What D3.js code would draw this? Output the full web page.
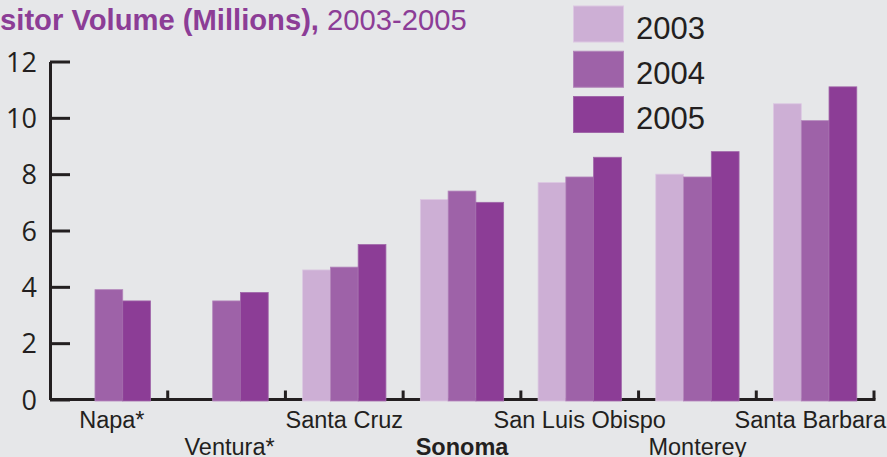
<!DOCTYPE html>
<html>
<head>
<meta charset="utf-8">
<script src="https://cdn.jsdelivr.net/npm/d3@7/dist/d3.min.js"></script>
<style>
  html, body { margin: 0; padding: 0; background: #e6e7e9; overflow: hidden; }
  svg { display: block; }
</style>
</head>
<body>
<svg id="chart" width="887" height="457"></svg>
<script>
// ---- Data ----
const categories = ["Napa*", "Ventura*", "Santa Cruz", "Sonoma", "San Luis Obispo", "Monterey", "Santa Barbara"];
const years = ["2003", "2004", "2005"];
const values2003 = [null, null, 4.6, 7.1, 7.7, 8.0, 10.5];
const values2004 = [3.9, 3.5, 4.7, 7.4, 7.9, 7.9, 9.9];
const values2005 = [3.5, 3.8, 5.5, 7.0, 8.6, 8.8, 11.1];
const yTicks = [0, 2, 4, 6, 8, 10, 12];
const titleBold = "Visitor Volume (Millions),";
const titleRest = " 2003-2005";

const seriesValues = [values2003, values2004, values2005];
const colors = ["#cdafd5", "#9e62a8", "#8c3d96"];
const edgeColors = ["#dcc8e2", "#b386bb", "#a066a9"];

const svg = d3.select("#chart");
const W = 887, H = 457;
svg.append("rect").attr("width", W).attr("height", H).attr("fill", "#e6e7e9");

const x0 = 50, x1end = 874, yTop = 61.5, yBase = 399.5;

const x = d3.scaleBand().domain(categories).range([x0, x1end]).paddingInner(0).paddingOuter(0);
const xs = d3.scaleBand().domain(years).range([0, x.bandwidth()]).paddingInner(0).paddingOuter(0.62);
const y = d3.scaleLinear().domain([0, 12]).range([yBase, yTop]);

// Title
const title = svg.append("text")
  .attr("x", -27).attr("y", 30)
  .attr("font-family", "Liberation Sans, Arial, sans-serif")
  .attr("font-size", 29.2)
  .attr("fill", "#8c3d96");
title.append("tspan").attr("font-weight", "bold").text(titleBold);
title.append("tspan").text(titleRest);

// X axis line + boundary ticks
const axisColor = "#231f20";
svg.append("line")
  .attr("x1", x0).attr("x2", x1end + 1.5)
  .attr("y1", yBase).attr("y2", yBase)
  .attr("stroke", axisColor).attr("stroke-width", 3);
const boundaries = categories.slice(1).map(c => x(c)).concat([x1end]);
svg.selectAll(".btick").data(boundaries).enter().append("line")
  .attr("x1", d => d).attr("x2", d => d)
  .attr("y1", yBase).attr("y2", yBase - 9)
  .attr("stroke", axisColor).attr("stroke-width", 3);

// Y axis
const yAxis = d3.axisLeft(y).tickValues(yTicks).tickSizeInner(-20).tickSizeOuter(0).tickPadding(13);
const yg = svg.append("g").attr("transform", `translate(${x0},0)`).call(yAxis);
yg.select(".domain").attr("stroke", axisColor).attr("stroke-width", 3);
yg.selectAll(".tick line").attr("stroke", axisColor).attr("stroke-width", 3);
yg.selectAll(".tick text")
  .attr("font-family", "Open Sans, Liberation Sans, sans-serif")
  .attr("font-size", 27)
  .attr("fill", "#231f20")
  .attr("dy", "0.36em");

// Bars
const groups = svg.selectAll(".cat").data(categories).enter().append("g")
  .attr("transform", d => `translate(${x(d)},0)`);
groups.each(function(cat, ci) {
  const g = d3.select(this);
  years.forEach((yr, si) => {
    const v = seriesValues[si][ci];
    if (v == null) return;
    g.append("rect")
      .attr("x", xs(yr))
      .attr("width", xs.bandwidth())
      .attr("y", y(v))
      .attr("height", yBase + 1.5 - y(v))
      .attr("fill", colors[si])
      .attr("stroke", edgeColors[si])
      .attr("stroke-width", 0.8);
  });
});

// X labels (alternating rows)
svg.selectAll(".xlabel").data(categories).enter().append("text")
  .attr("x", d => x(d) + x.bandwidth() / 2 + (d.endsWith("*") ? 3 : 0))
  .attr("y", (d, i) => i % 2 === 0 ? 428 : 455)
  .attr("text-anchor", "middle")
  .attr("font-family", "Liberation Sans, Arial, sans-serif")
  .attr("font-size", 23.5)
  .attr("font-weight", d => d === "Sonoma" ? "bold" : "normal")
  .attr("fill", "#231f20")
  .text(d => d)
  .each(function() {
    const bb = this.getBBox();
    if (bb.x + bb.width > W - 1) {
      d3.select(this).attr("text-anchor", "end").attr("x", W - 1);
    }
  });

// Legend
const ly = d3.scalePoint().domain(years).range([6, 96.5]);
const leg = svg.selectAll(".leg").data(years).enter().append("g")
  .attr("transform", d => `translate(573.5,${ly(d)})`);
leg.append("rect")
  .attr("width", 50).attr("height", 36)
  .attr("fill", (d, i) => colors[i])
  .attr("stroke", (d, i) => edgeColors[i]).attr("stroke-width", 1);
leg.append("text")
  .attr("x", 62.5).attr("y", 32.5)
  .attr("font-family", "Liberation Sans, Arial, sans-serif")
  .attr("font-size", 31)
  .attr("fill", "#231f20")
  .text(d => d);
</script>
